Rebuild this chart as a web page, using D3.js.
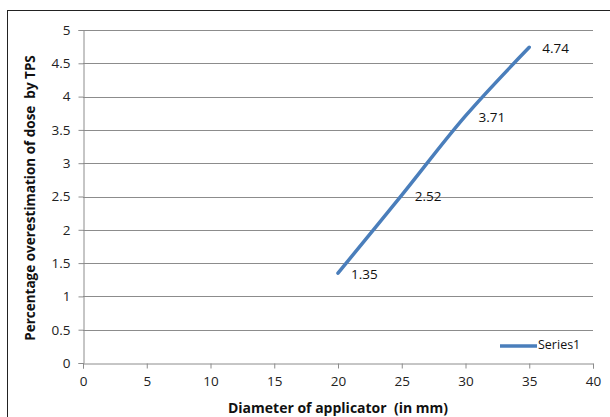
<!DOCTYPE html>
<html><head><meta charset="utf-8">
<script src="https://cdn.jsdelivr.net/npm/d3@7"></script>
<style>body{margin:0;background:#fff}svg{display:block}text{font-family:"Open Sans","Noto Sans",sans-serif;white-space:pre}</style>
</head><body><svg id="c" width="610" height="417"></svg>
<script>
const diameters = [20, 25, 30, 35];
const overestimation = [1.35, 2.52, 3.71, 4.74];
const labels = ["1.35", "2.52", "3.71", "4.74"];
const xTicks = [0, 5, 10, 15, 20, 25, 30, 35, 40];
const yTicks = [0, 0.5, 1, 1.5, 2, 2.5, 3, 3.5, 4, 4.5, 5];
const seriesName = "Series1";
const xTitle = "Diameter of applicator  (in mm)";
const yTitle = "Percentage overestimation of dose  by TPS";

const svg = d3.select("#c");
svg.append("rect").attr("x", 7.5).attr("y", 10.5).attr("width", 640).attr("height", 440)
  .attr("fill", "#fff").attr("stroke", "#222").attr("stroke-width", 1);

const L = 83, R = 593, T = 30, B = 363;
const x = d3.scaleLinear().domain([0, 40]).range([L, R]);
const y = d3.scaleLinear().domain([0, 5]).range([B, T]);

// gridlines
svg.append("g").selectAll("line").data(yTicks.filter(d => d > 0)).join("line")
  .attr("x1", L).attr("x2", R).attr("y1", d => Math.round(y(d)) + 0.5).attr("y2", d => Math.round(y(d)) + 0.5)
  .attr("stroke", "#8c8c8c").attr("stroke-width", 1);

const tickColor = "#8c8c8c";
const yAxis = svg.append("g").attr("transform", `translate(${L + 0.5},0)`)
  .call(d3.axisLeft(y).tickValues(yTicks).tickSize(5).tickPadding(8).tickFormat(d3.format("")));
const xAxis = svg.append("g").attr("transform", `translate(0,${B + 0.5})`)
  .call(d3.axisBottom(x).tickValues(xTicks).tickSize(5).tickPadding(8).tickFormat(d3.format("")));
[yAxis, xAxis].forEach(a => {
  a.select(".domain").attr("stroke", tickColor);
  a.selectAll(".tick line").attr("stroke", tickColor);
  a.selectAll(".tick text").attr("fill", "#222").style("font-size", "13.5px")
    .style("font-family", '"Open Sans","Noto Sans",sans-serif');
});

// line
const pts = diameters.map((d, i) => [d, overestimation[i]]);
const line = d3.line().x(d => x(d[0])).y(d => y(d[1])).curve(d3.curveCatmullRom.alpha(0.5));
svg.append("path").datum(pts).attr("d", line).attr("fill", "none")
  .attr("stroke", "#4a7ebb").attr("stroke-width", 3.5).attr("stroke-linecap", "round");

// data labels
svg.append("g").selectAll("text").data(pts).join("text")
  .attr("x", d => x(d[0]) + 13).attr("y", d => y(d[1]) + 2)
  .attr("dominant-baseline", "middle").attr("fill", "#111").style("font-size", "13.5px")
  .text((d, i) => labels[i]);

// legend
svg.append("line").attr("x1", 500).attr("x2", 537).attr("y1", 346).attr("y2", 346)
  .attr("stroke", "#4a7ebb").attr("stroke-width", 3.5);
svg.append("text").attr("x", 538).attr("y", 346).attr("dominant-baseline", "middle")
  .attr("fill", "#111").style("font-size", "12.5px").text(seriesName);

// titles
svg.append("text").attr("x", 338).attr("y", 413).attr("text-anchor", "middle")
  .style("font-size", "14px").style("font-weight", "bold").attr("fill", "#111").text(xTitle);
svg.append("text").attr("transform", `translate(35,198) rotate(-90)`)
  .attr("text-anchor", "middle").style("font-size", "13.5px").style("font-weight", "bold")
  .attr("fill", "#111").text(yTitle);
</script></body></html>
